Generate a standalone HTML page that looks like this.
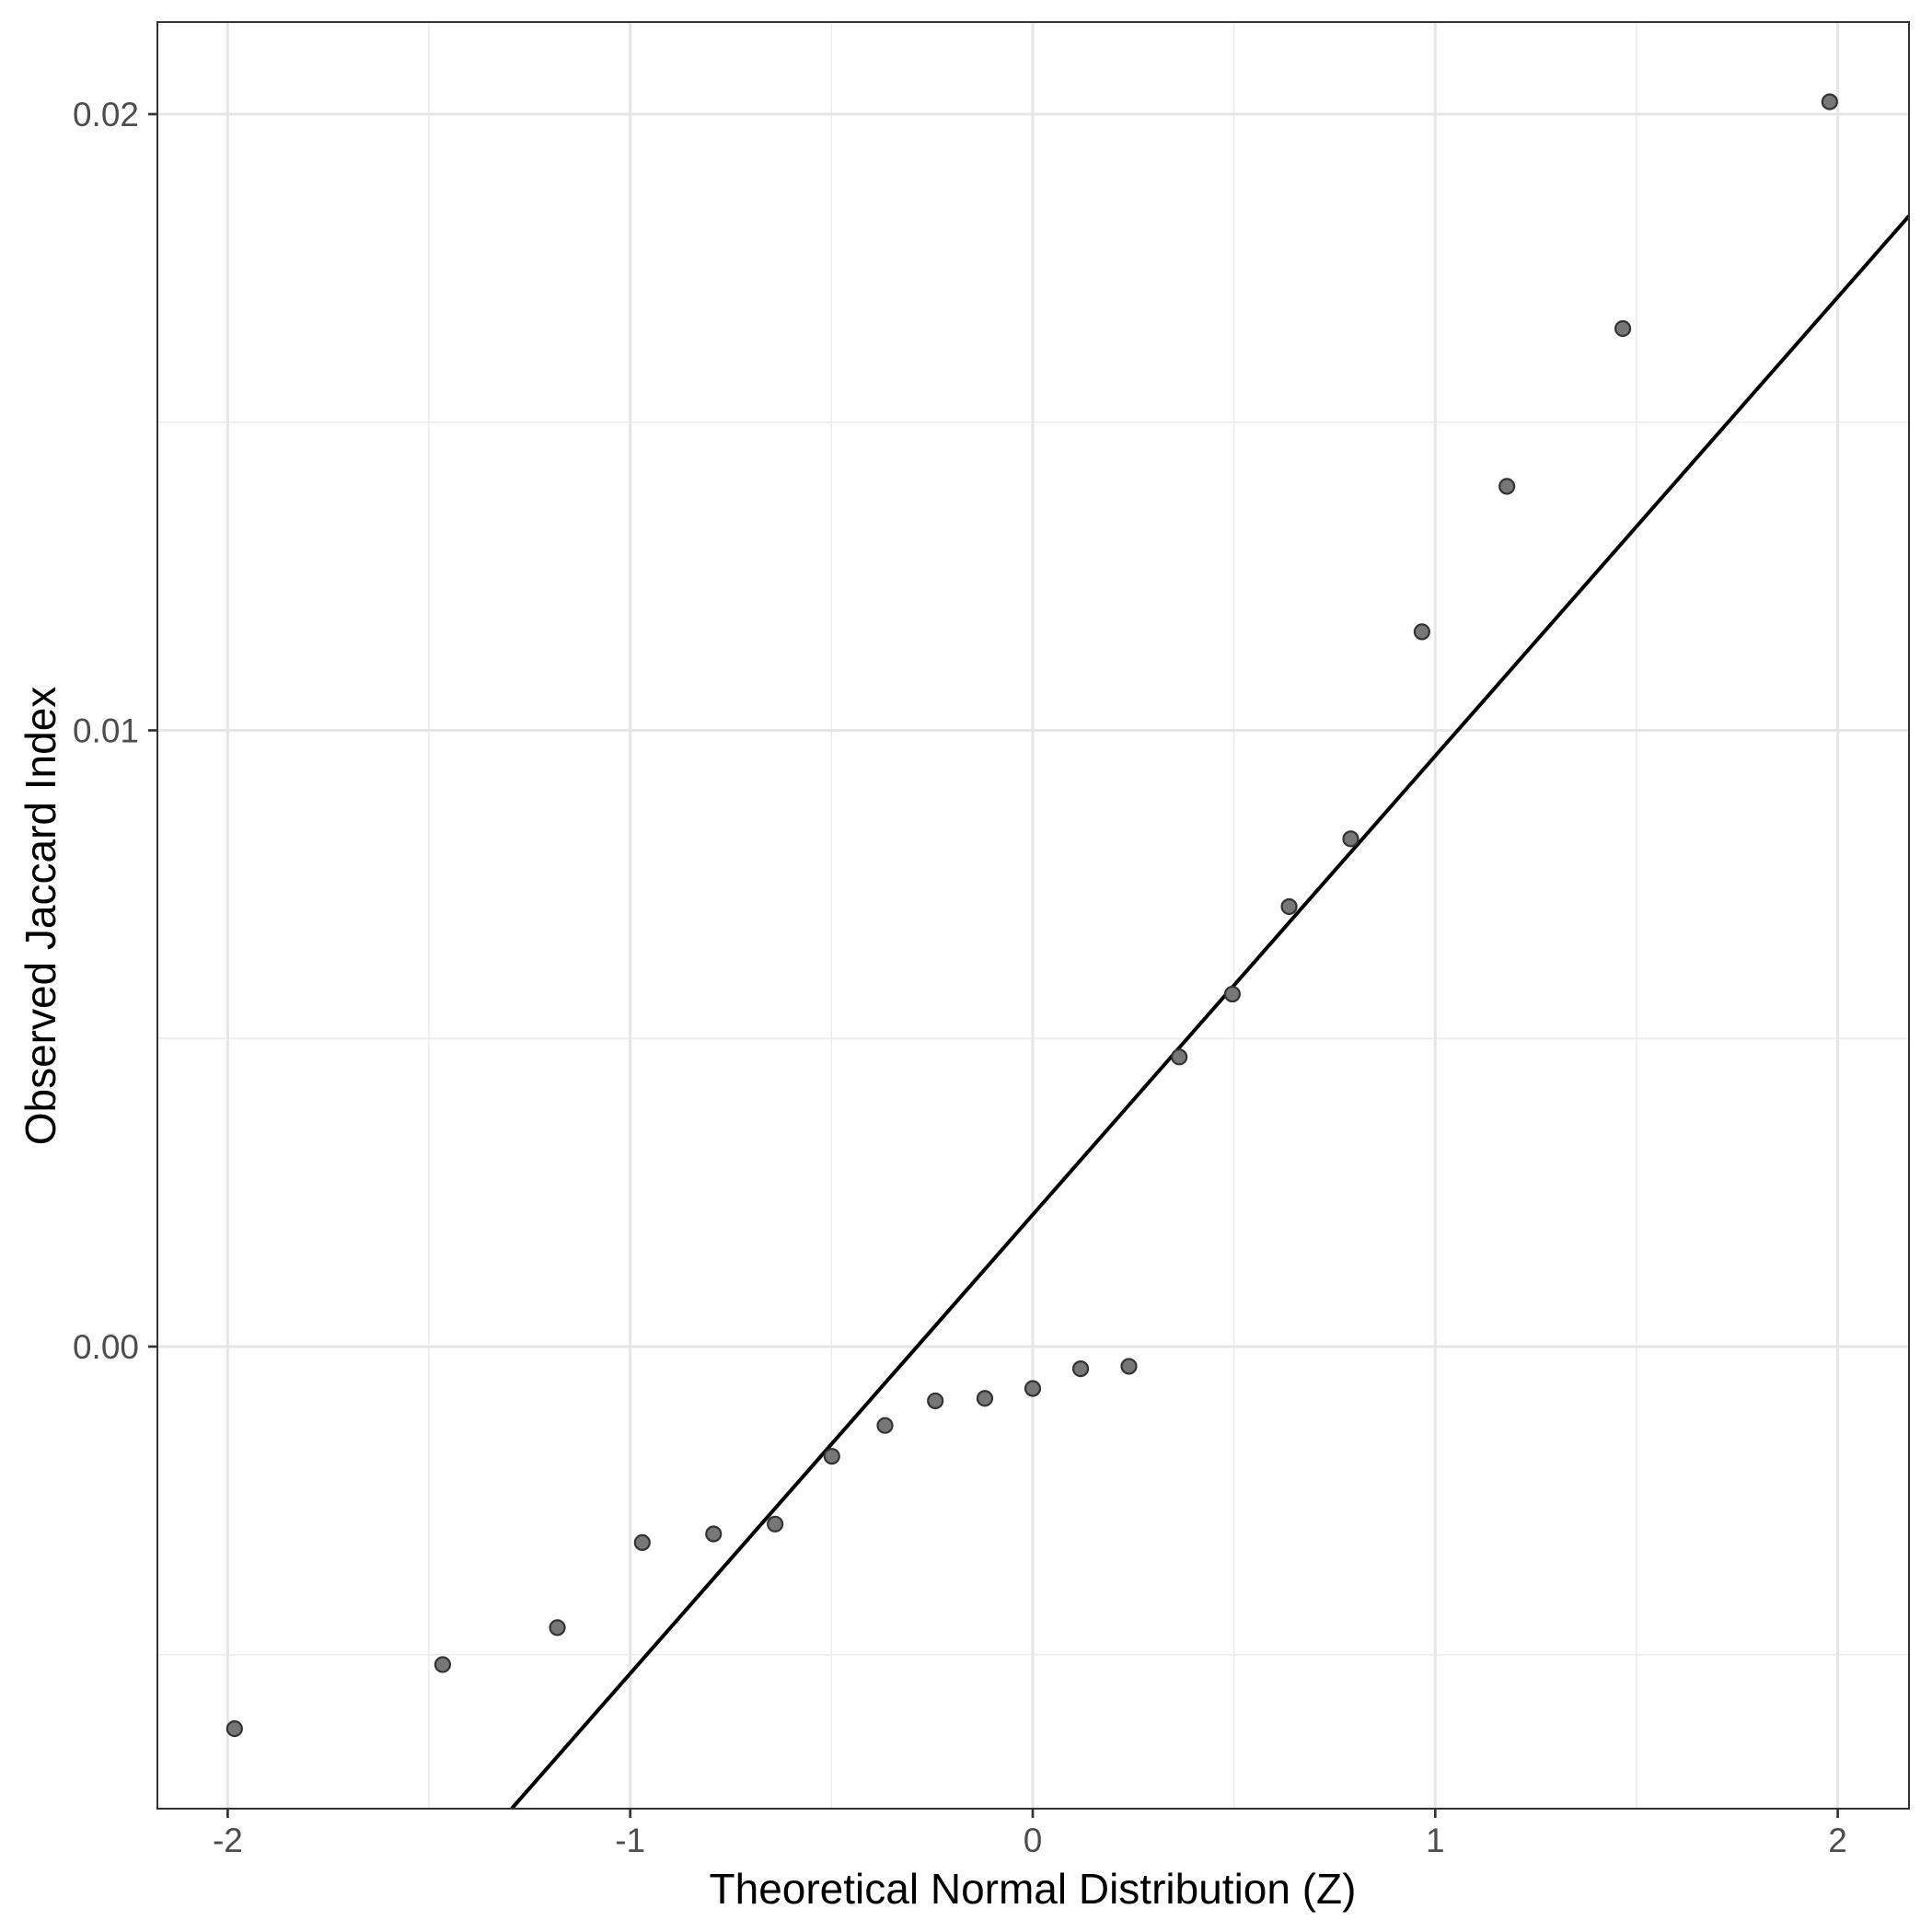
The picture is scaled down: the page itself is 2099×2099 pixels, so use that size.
<!DOCTYPE html>
<html><head><meta charset="utf-8"><style>
body{margin:0;background:#fff}
svg{display:block;font-family:"Liberation Sans",Arial,sans-serif}
</style></head><body>
<svg id="chart" width="2099" height="2099" viewBox="0 0 2099 2099" xmlns="http://www.w3.org/2000/svg">
<rect width="2099" height="2099" fill="#fff"/>
<g id="grid"></g>
<g id="marks"></g>
<rect x="171" y="24" width="1903" height="1941" fill="none" stroke="#333" stroke-width="2"/>
<g id="axes"></g>
<text x="1122" y="2068" font-size="46" text-anchor="middle" fill="#000">Theoretical Normal Distribution (Z)</text>
<text transform="translate(60,995) rotate(-90)" font-size="46" text-anchor="middle" fill="#000">Observed Jaccard Index</text>
</svg>
<script>
const theoreticalZ=[-1.983,-1.466,-1.181,-0.970,-0.793,-0.640,-0.499,-0.367,-0.242,-0.119,0,0.119,0.239,0.364,0.496,0.637,0.790,0.967,1.178,1.466,1.980];
const observedJaccard=[-0.0062,-0.00516,-0.00456,-0.00318,-0.00304,-0.00288,-0.00178,-0.00128,-0.00088,-0.00084,-0.00068,-0.00036,-0.00032,0.0047,0.00572,0.00714,0.00824,0.0116,0.01396,0.01652,0.0202];
const lineSlope=0.007445;
const lineIntercept=0.00214;
const xTicks=[-2,-1,0,1,2];
const xTickLabels=["-2","-1","0","1","2"];
const xMinor=[-1.5,-0.5,0.5,1.5];
const yTicks=[0,0.01,0.02];
const yTickLabels=["0.00","0.01","0.02"];
const yMinor=[-0.005,0.005,0.015];

const L=171,R=2074,T=24,B=1965;
const xs=v=>1122+v*437.3;
const ys=v=>1463-v*66950;
const NS="http://www.w3.org/2000/svg";
function mk(tag,attrs,parent){const e=document.createElementNS(NS,tag);for(const k in attrs)e.setAttribute(k,attrs[k]);parent.appendChild(e);return e;}
const grid=document.getElementById('grid'),marks=document.getElementById('marks'),axes=document.getElementById('axes');
xMinor.forEach(v=>{const e=mk('line',{x1:xs(v),x2:xs(v),y1:T,y2:B,stroke:'#ebebeb','stroke-width':1.5},grid);

});
yMinor.forEach(v=>{const e=mk('line',{x1:L,x2:R,y1:ys(v),y2:ys(v),stroke:'#ebebeb','stroke-width':1.5},grid);

});
xTicks.forEach((v,i)=>{const e=mk('line',{x1:xs(v),x2:xs(v),y1:T,y2:B,stroke:'#e6e6e6','stroke-width':3},grid);


const t=mk('line',{x1:xs(v),x2:xs(v),y1:B,y2:B+10,stroke:'#333','stroke-width':2.7},axes);


const l=mk('text',{x:xs(v),y:2012,'font-size':37,'text-anchor':'middle',fill:'#4d4d4d'},axes);l.textContent=xTickLabels[i];

});
yTicks.forEach((v,i)=>{const e=mk('line',{x1:L,x2:R,y1:ys(v),y2:ys(v),stroke:'#e6e6e6','stroke-width':3},grid);


const t=mk('line',{x1:L-10,x2:L,y1:ys(v),y2:ys(v),stroke:'#333','stroke-width':2.7},axes);


const l=mk('text',{x:151,y:ys(v)+13,'font-size':37,'text-anchor':'end',fill:'#4d4d4d'},axes);l.textContent=yTickLabels[i];

});
const zA=(((1463-B)/66950)-lineIntercept)/lineSlope;
const zB=(((1463-T)/66950)-lineIntercept)/lineSlope;
const z0=Math.max(zA,(L-1122)/437.3), z1=Math.min(zB,(R-1122)/437.3);
const ln=mk('line',{x1:xs(z0),y1:ys(lineIntercept+lineSlope*z0),x2:xs(z1),y2:ys(lineIntercept+lineSlope*z1),stroke:'#000','stroke-width':4},marks);


theoreticalZ.forEach((z,i)=>{const c=mk('circle',{cx:xs(z),cy:ys(observedJaccard[i]),r:8,fill:'#777',stroke:'#333','stroke-width':2.2},marks);

});
</script>
</body></html>
